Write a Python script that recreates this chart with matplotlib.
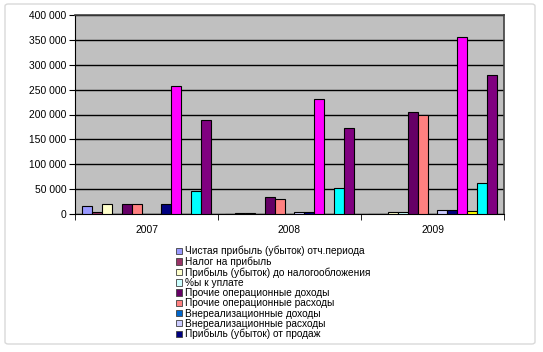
import numpy as np
import matplotlib
matplotlib.use('Agg')
import matplotlib.pyplot as plt
from matplotlib.patches import FancyBboxPatch, Patch
from matplotlib.ticker import FuncFormatter, MultipleLocator

plt.rcParams['font.family'] = ['Liberation Sans', 'DejaVu Sans']

years = ['2007', '2008', '2009']
series_names = [
    'Чистая прибыль (убыток) отч.периода',
    'Налог на прибыль',
    'Прибыль (убыток) до налогообложения',
    '%ы к уплате',
    'Прочие операционные доходы',
    'Прочие операционные расходы',
    'Внереализационные доходы',
    'Внереализационные расходы',
    'Прибыль (убыток) от продаж',
    'Выручка',
    'Коммерческие расходы',
    'Валовая прибыль',
    'Себестоимость',
]
series_colors = ['#9999FF', '#993366', '#FFFFCC', '#CCFFFF', '#660066', '#FF8080',
                 '#0066CC', '#CCCCFF', '#000080', '#FF00FF', '#FFFF00', '#00FFFF', '#800080']
values = [
    [16000, 1000, 1000],
    [4500, 3000, 1000],
    [20000, 3000, 3500],
    [1000, 1000, 3500],
    [20000, 34500, 204500],
    [20000, 30000, 198500],
    [500, 1000, 1000],
    [500, 3500, 8000],
    [20000, 3500, 8000],
    [258000, 232000, 356000],
    [1000, 1000, 6500],
    [46800, 52000, 62500],
    [188000, 172500, 279500],
]
legend_count = 9  # legend in the picture is cut after nine entries

fig = plt.figure(figsize=(5.43, 3.52), dpi=100)
fig.patches.append(FancyBboxPatch((5 / 543, 8 / 352), 530 / 543, 340 / 352,
                                  boxstyle='round,pad=0,rounding_size=0.006',
                                  transform=fig.transFigure, facecolor='white',
                                  edgecolor='#D9D9D9', lw=1, zorder=-10))
ax = fig.add_axes([75 / 543, 1 - 214 / 352, 429 / 543, 199 / 352])
ax.set_facecolor('#C0C0C0')

x = np.arange(len(years))
n = len(series_names)
w = 1 / (n + 1.5)
for i, (vals, col) in enumerate(zip(values, series_colors)):
    ax.bar(x + (i - (n - 1) / 2) * w, vals, w, color=col, edgecolor='black', lw=0.8, zorder=3)

ax.set_xlim(-0.5, 2.5)
ax.set_ylim(0, 400000)
ax.yaxis.set_major_locator(MultipleLocator(50000))
ax.yaxis.set_major_formatter(FuncFormatter(lambda v, _: f'{int(v):,}'.replace(',', ' ')))
ax.grid(axis='y', color='black', lw=1, zorder=1)
ax.set_xticks(x)
ax.set_xticklabels(years)
ax.set_xticks([-0.5, 0.5, 1.5, 2.5], minor=True)
ax.tick_params(axis='x', which='major', length=0, pad=8, labelsize=7.4)
ax.tick_params(axis='x', which='minor', length=4, direction='out', color='black')
ax.tick_params(axis='y', length=4, direction='out', labelsize=7.4, pad=2)
for side in ('top', 'right'):
    ax.spines[side].set_color('#404040')
    ax.spines[side].set_linewidth(1.2)
for side in ('left', 'bottom'):
    ax.spines[side].set_color('black')

handles = [Patch(facecolor=series_colors[i], edgecolor='#404040', lw=0.6) for i in range(legend_count)]
fig.legend(handles, series_names[:legend_count], loc='upper left',
           bbox_to_anchor=(176 / 543, 1 - 246 / 352), frameon=False, fontsize=7.3,
           handlelength=0.6, handleheight=0.6, handletextpad=0.3, labelspacing=0.02,
           borderpad=0, borderaxespad=0)

fig.savefig('out.png', dpi=100)
